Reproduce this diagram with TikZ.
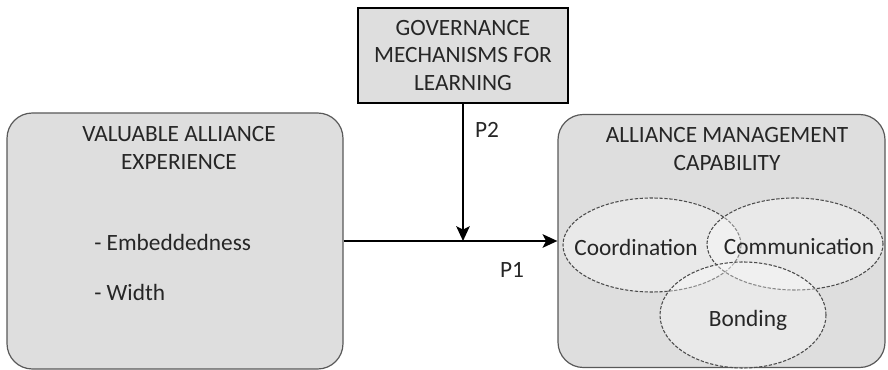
\documentclass[tikz,border=0pt]{standalone}
\usepackage{fontspec}
\setmainfont{Carlito}
\usetikzlibrary{arrows.meta,shapes.geometric}

\begin{document}
\begin{tikzpicture}[x=0.75pt,y=0.75pt,yscale=-1,xscale=1,
  roundbox/.style={draw=black!65,line width=0.9pt,fill=black!13,rounded corners=19pt,inner sep=0pt},
  govbox/.style={draw=black,line width=1.7pt,fill=black!13,inner sep=0pt},
  lbl/.style={inner sep=0.75pt,align=center,text=black!85,font=\fontsize{17.5}{20.5}\selectfont},
  part/.style={ellipse,draw=black!70,dash pattern=on 2.5pt off 1.2pt,line width=0.8pt,fill=white,fill opacity=0.35,draw opacity=1,text opacity=1,inner sep=0pt},
  arr/.style={line width=2.2pt,-{Stealth[length=11pt,width=10pt,inset=2.5pt]}}]
\useasboundingbox (0,0) rectangle (888,370);

%Shape: Rounded Rectangle
\node[roundbox,minimum width=252pt,minimum height=192pt] (vae) at (175,241) {};
%Shape: Rounded Rectangle
\node[roundbox,minimum width=245.25pt,minimum height=189.75pt] (amc) at (721.5,241) {};
%Shape: Rectangle
\node[govbox,minimum width=157.5pt,minimum height=71.25pt] (gov) at (463,55.5) {};

%Shape: Ellipse
\node[part,minimum width=133.5pt,minimum height=70.5pt] (coord) at (652,245) {};
%Shape: Ellipse
\node[part,minimum width=132pt,minimum height=69pt] (comm) at (795,244) {};
%Shape: Ellipse
\node[part,minimum width=124.5pt,minimum height=79.5pt] (bond) at (743,315) {};

%Straight Lines
\coordinate (join) at (463,241);
\draw[arr] (vae.east) -- (amc.west);
\draw[arr] (gov.south) -- (join);

% Text Node
\node[lbl] (govtxt) at (gov.center) {GOVERNANCE\\MECHANISMS FOR\\LEARNING};
% Text Node
\node[lbl] (vaetxt) at (179,148) {VALUABLE ALLIANCE\\EXPERIENCE};
% Text Node
\node[lbl,anchor=west] (emb) at (93,242) {- Embeddedness};
% Text Node
\node[lbl,anchor=west] (wid) at (93,292) {- Width};
% Text Node
\node[lbl] (amctxt) at (727,149) {ALLIANCE MANAGEMENT\\CAPABILITY};
% Text Node
\node[lbl] (coordtxt) at (636,247) {Coordination};
% Text Node
\node[lbl] (commtxt) at (799,247) {Communication};
% Text Node
\node[lbl] (bondtxt) at (748,320) {Bonding};
% Text Node
\node[lbl] (ptwo) at (487,130) {P2};
% Text Node
\node[lbl] (pone) at (512,270) {P1};

\end{tikzpicture}
\end{document}
